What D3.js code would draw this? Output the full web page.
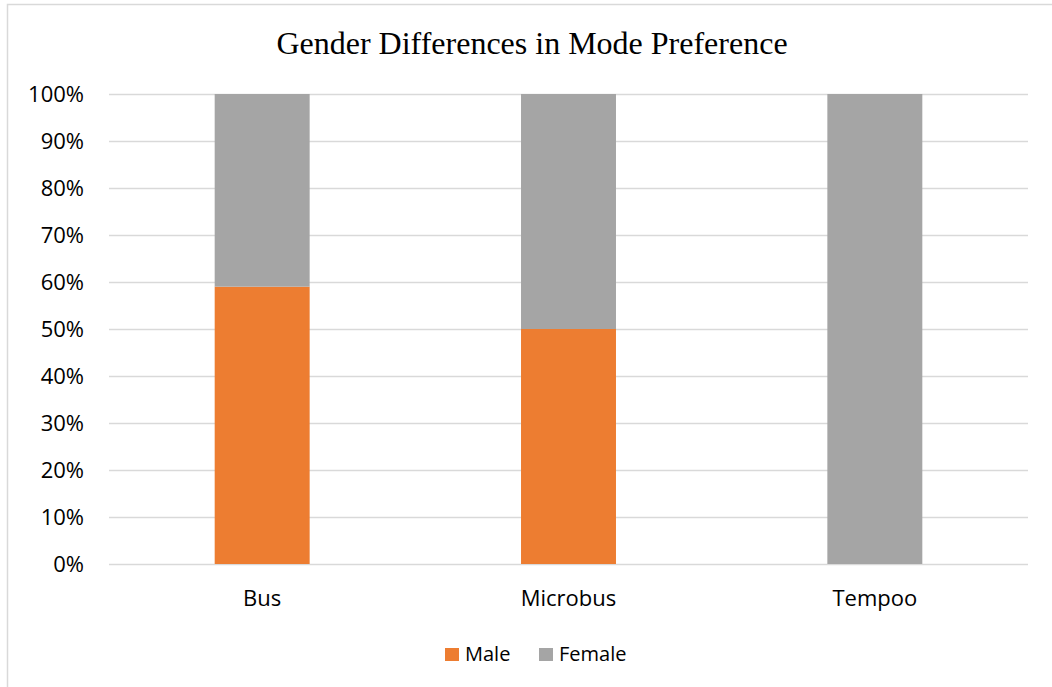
<!DOCTYPE html>
<html>
<head>
<meta charset="utf-8">
<script src="https://cdn.jsdelivr.net/npm/d3@7"></script>
<style>
  html, body { margin: 0; padding: 0; background: #fff; }
  svg { display: block; }
</style>
</head>
<body>
<svg id="chart" width="1052" height="687"></svg>
<script>
// Mode preference split by gender (share of respondents)
const categories = ["Bus", "Microbus", "Tempoo"];
const maleShare = [0.59, 0.50, 0.00];
const femaleShare = [0.41, 0.50, 1.00];
const seriesNames = ["Male", "Female"];
const tickValues = [0, 0.1, 0.2, 0.3, 0.4, 0.5, 0.6, 0.7, 0.8, 0.9, 1.0];

const colors = { Male: "#ED7D31", Female: "#A5A5A5" };
const labelFont = "'Open Sans', 'Noto Sans', sans-serif";

const svg = d3.select("#chart");
const W = 1052, H = 687;
const plot = { left: 109, right: 1028, top: 94, bottom: 564 };

svg.append("rect").attr("width", W).attr("height", H).attr("fill", "#fff");
// chart frame (extends past the right and bottom edges)
svg.append("rect")
  .attr("x", 7.5).attr("y", 4.5)
  .attr("width", W + 20).attr("height", H + 20)
  .attr("fill", "none").attr("stroke", "#D9D9D9").attr("stroke-width", 1.5);

const rows = categories.map((c, i) => ({ category: c, Male: maleShare[i], Female: femaleShare[i] }));
const stacked = d3.stack().keys(seriesNames)(rows);

const x = d3.scaleBand()
  .domain(categories)
  .range([plot.left, plot.right])
  .paddingInner(0.69)
  .paddingOuter(0.345);

const y = d3.scaleLinear().domain([0, 1]).range([plot.bottom, plot.top]);

// gridlines
svg.append("g")
  .selectAll("line")
  .data(tickValues)
  .join("line")
  .attr("x1", plot.left).attr("x2", plot.right)
  .attr("y1", d => Math.round(y(d)) + 0.5).attr("y2", d => Math.round(y(d)) + 0.5)
  .attr("stroke", "#D9D9D9").attr("stroke-width", 1.5);

// y axis labels
const yAxis = svg.append("g")
  .attr("transform", `translate(${plot.left - 25},0)`)
  .call(d3.axisLeft(y).tickValues(tickValues).tickFormat(d3.format(".0%")).tickSize(0).tickPadding(0));
yAxis.select(".domain").remove();
yAxis.selectAll("text")
  .attr("font-family", labelFont).attr("font-size", 22).attr("fill", "#000")
  .attr("dy", "0.36em");

// stacked bars
svg.append("g")
  .selectAll("g")
  .data(stacked)
  .join("g")
  .attr("fill", d => colors[d.key])
  .selectAll("rect")
  .data(d => d)
  .join("rect")
  .attr("x", d => x(d.data.category))
  .attr("width", x.bandwidth())
  .attr("y", d => y(d[1]))
  .attr("height", d => y(d[0]) - y(d[1]));

// category axis
const xAxis = svg.append("g")
  .attr("transform", `translate(0,${plot.bottom})`)
  .call(d3.axisBottom(x).tickSize(0).tickPadding(0));
xAxis.select(".domain").remove();
xAxis.selectAll("text")
  .attr("font-family", labelFont).attr("font-size", 22).attr("fill", "#000")
  .attr("dy", "1.92em");

// title
svg.append("text")
  .attr("x", 532).attr("y", 54)
  .attr("text-anchor", "middle")
  .attr("font-family", "'Liberation Serif', 'Times New Roman', serif")
  .attr("font-size", 32).attr("fill", "#000")
  .text("Gender Differences in Mode Preference");

// legend
const legendX = [445, 539];
const legend = svg.append("g")
  .selectAll("g")
  .data(seriesNames)
  .join("g")
  .attr("transform", (d, i) => `translate(${legendX[i]},648)`);
legend.append("rect")
  .attr("width", 14).attr("height", 13)
  .attr("fill", d => colors[d]);
legend.append("text")
  .attr("x", 20).attr("y", 13)
  .attr("font-family", labelFont).attr("font-size", 20).attr("fill", "#000")
  .text(d => d);
</script>
</body>
</html>
